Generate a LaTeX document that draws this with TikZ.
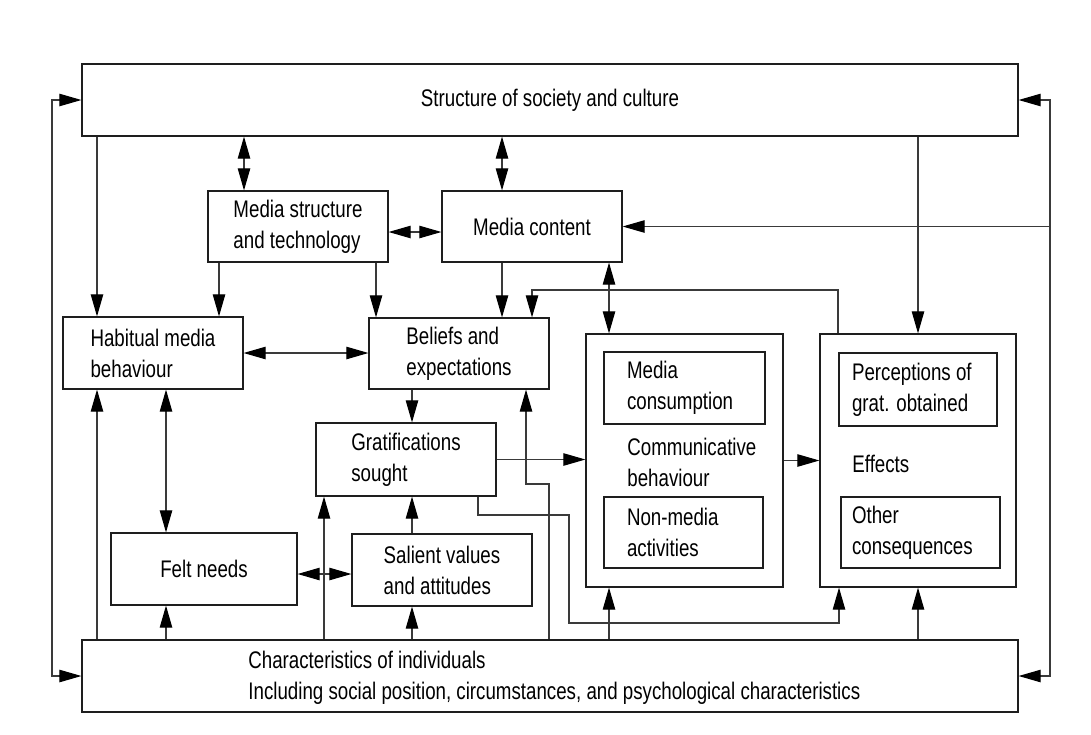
\documentclass[tikz,border=0pt]{standalone}
\usepackage{fontspec}
\setmainfont{Liberation Sans}[FakeStretch=0.78]
\usetikzlibrary{arrows.meta}
\definecolor{lInk}{HTML}{3A3A3A}
\definecolor{bInk}{HTML}{1E1E1E}

\begin{document}
\begin{tikzpicture}[x=0.5pt, y=-0.5pt, >={Triangle[length=11pt,width=6.2pt,color=black]},
    box/.style={draw=bInk, line width=0.6pt, align=left, inner sep=0pt,
      font=\fontsize{12}{15.5}\selectfont},
    inbox/.style={box, align=flush left, inner xsep=#1},
    txt/.style={align=left, inner sep=0pt, font=\fontsize{12}{15.5}\selectfont},
    link/.style={draw=lInk, line width=0.55pt}]
  \useasboundingbox (0,0) rectangle (1091,734);
  % boxes
  \node[box, minimum width=468pt, minimum height=36pt] (soc) at (550,100) {Structure of society and culture};
  \node[box, minimum width=468pt, minimum height=36pt] (indiv) at (550,676) {};
  \node[txt, anchor=west] (indivtxt) at (248,678) {Characteristics of individuals\\Including social position, circumstances, and psychological characteristics};
  \node[box, minimum width=90pt, minimum height=35.5pt] (mstruct) at (298,226.5) {Media structure\\and technology};
  \node[box, minimum width=90pt, minimum height=35.5pt] (mcont) at (532,226.5) {Media content};
  \node[box, minimum width=90pt, minimum height=36pt] (habit) at (153,353) {Habitual media\\behaviour};
  \node[box, minimum width=90pt, minimum height=35.5pt] (belief) at (459,353.5) {Beliefs and\\expectations};
  \node[box, minimum width=90pt, minimum height=36.5pt] (grat) at (406,459.5) {Gratifications\\sought};
  \node[box, minimum width=93pt, minimum height=36pt] (felt) at (204,569) {Felt needs};
  \node[box, minimum width=90pt, minimum height=36pt] (salient) at (442,570) {Salient values\\and attitudes};
  \node[box, minimum width=98.5pt, minimum height=126.5pt] (comm) at (684.5,460.5) {};
  \node[txt, anchor=west] (commlbl) at (627,462) {Communicative\\behaviour};
  \node[inbox=11.5pt, minimum width=80.5pt, minimum height=36pt, text width=57.5pt] (mcons) at (684.5,388) {Media\\consumption};
  \node[inbox=11.5pt, minimum width=79.5pt, minimum height=35.5pt, text width=56.5pt] (nonmed) at (683.5,532.5) {Non-media\\activities};
  \node[box, minimum width=98pt, minimum height=126.5pt] (effects) at (918,460.5) {};
  \node[txt, anchor=west] (efflbl) at (852,464) {Effects};
  \node[inbox=6.5pt, minimum width=79pt, minimum height=36.5pt, text width=66pt] (percep) at (918,389.5) {Perceptions of\\grat. obtained};
  \node[inbox=5.5pt, minimum width=79.5pt, minimum height=35.5pt, text width=68.5pt] (other) at (920.5,532.5) {Other\\consequences};
  % columns and bends
  \coordinate (loopL) at (52,400);
  \coordinate (loopR) at (1050,400);
  \coordinate (hx) at (97,0);
  \coordinate (msx) at (244,0);
  \coordinate (mhx) at (219,0);
  \coordinate (mbx) at (376,0);
  \coordinate (mcx) at (502,0);
  \coordinate (cmx) at (609,0);
  \coordinate (efx) at (918,0);
  \coordinate (fx) at (166,0);
  \coordinate (gx) at (412,0);
  \coordinate (igx) at (324,0);
  \coordinate (fbturn) at (838,290);
  \coordinate (fbdrop) at (532,290);
  \coordinate (ib1) at (549,484);
  \coordinate (ib2) at (526,484);
  \coordinate (ge1) at (478,515);
  \coordinate (ge2) at (569,515);
  \coordinate (ge3) at (569,623);
  \coordinate (ge4) at (839,623);
  % outer loops
  \draw[link, <->] (soc.west) -| (loopL) |- (indiv.west);
  \draw[link, <->] (soc.east) -| (loopR) |- (indiv.east);
  \draw[link, ->] (mcont.east -| loopR) -- (mcont.east);
  % from society
  \draw[link, ->] (soc.south -| hx) -- (habit.north -| hx);
  \draw[link, <->] (soc.south -| msx) -- (mstruct.north -| msx);
  \draw[link, <->] (soc.south -| mcx) -- (mcont.north -| mcx);
  \draw[link, ->] (soc.south -| efx) -- (effects.north -| efx);
  % media
  \draw[link, <->] ([yshift=-2.75pt]mstruct.east) -- ([yshift=-2.75pt]mcont.west);
  \draw[link, ->] (mstruct.south -| mhx) -- (habit.north -| mhx);
  \draw[link, ->] (mstruct.south -| mbx) -- (belief.north -| mbx);
  \draw[link, ->] (mcont.south -| mcx) -- (belief.north -| mcx);
  \draw[link, <->] (mcont.south -| cmx) -- (comm.north -| cmx);
  \draw[link, ->] (effects.north -| fbturn) -- (fbturn) -- (fbdrop) -- (belief.north -| fbdrop);
  % middle
  \draw[link, <->] (habit.east) -- (habit.east -| belief.west);
  \draw[link, ->] (belief.south -| gx) -- (grat.north -| gx);
  \draw[link, ->] (grat.east) -- (grat.east -| comm.west);
  \draw[link, ->] (comm.east) -- (comm.east -| effects.west);
  \draw[link, ->] (grat.south -| ge1) -- (ge1) -- (ge2) -- (ge3) -- (ge4) -- (effects.south -| ge4);
  \draw[link, <->] (habit.south -| fx) -- (felt.north -| fx);
  \draw[link, <->] ([yshift=-2.5pt]felt.east) -- ([yshift=-2.5pt]felt.east -| salient.west);
  \draw[link, ->] (salient.north -| gx) -- (grat.south -| gx);
  % from individuals
  \draw[link, ->] (indiv.north -| hx) -- (habit.south -| hx);
  \draw[link, ->] (indiv.north -| fx) -- (felt.south -| fx);
  \draw[link, ->] (indiv.north -| igx) -- (grat.south -| igx);
  \draw[link, ->] (indiv.north -| gx) -- (salient.south -| gx);
  \draw[link, ->] (indiv.north -| ib1) -- (ib1) -- (ib2) -- (belief.south -| ib2);
  \draw[link, ->] (indiv.north -| cmx) -- (comm.south -| cmx);
  \draw[link, ->] (indiv.north -| efx) -- (effects.south -| efx);
\end{tikzpicture}
\end{document}
